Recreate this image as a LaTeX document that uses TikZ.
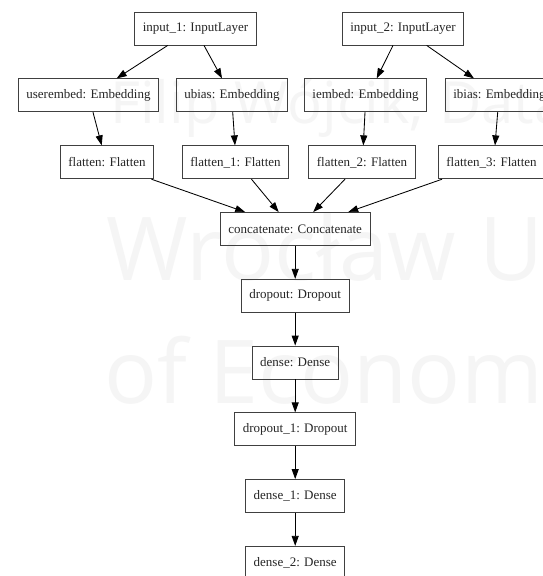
\documentclass[tikz,border=0pt]{standalone}
\usepackage{fontspec}
\setmainfont{Liberation Serif}
\newfontfamily\wmfont{Open Sans}
\usetikzlibrary{arrows.meta}
\begin{document}
\begin{tikzpicture}[x=1pt,y=-1pt,
  layer/.style={draw=black!75, line width=0.85pt, rectangle,
    minimum height=33pt, inner xsep=8pt, inner ysep=0pt,
    font=\fontsize{13}{15}\selectfont, text=black!85},
  flow/.style={draw=black, line width=0.85pt,
    -{Triangle[length=10pt,width=7pt]}},
  wmark/.style={anchor=base west, inner sep=0pt, text=black!4,
    font=\wmfont}
]
\useasboundingbox (0,0) rectangle (542,576);
\fill[white] (0,0) rectangle (542,576);

% faint background watermark
\node[wmark] (wm1) at (110,123) {\fontsize{58}{60}\selectfont Filip Wójcik, Data Science};
\node[wmark] (wm2) at (106,280) {\fontsize{88}{90}\selectfont Wrocław University};
\node[wmark] (wm3) at (104,403) {\fontsize{88}{90}\selectfont of Economics};

% rows of layers
\def\rowA{28.5}
\node[layer] (input1)    at (195.5,28.5)  {input\_1: InputLayer};
\node[layer] (input2)    at (403,28.5)    {input\_2: InputLayer};

\node[layer] (userembed) at (88.5,95.3)   {userembed: Embedding};
\node[layer] (ubias)     at (232,95.3)    {ubias: Embedding};
\node[layer] (iembed)    at (365.5,95.3)  {iembed: Embedding};
\node[layer] (ibias)     at (499.5,95.3)  {ibias: Embedding};

\node[layer] (flat0)     at (107,162.3)   {flatten: Flatten};
\node[layer] (flat1)     at (235.5,162.3) {flatten\_1: Flatten};
\node[layer] (flat2)     at (362,162.3)   {flatten\_2: Flatten};
\node[layer] (flat3)     at (491.5,162.3) {flatten\_3: Flatten};

\node[layer] (concat)    at (295.2,229)   {concatenate: Concatenate};
\node[layer] (drop0)     at (295.2,295.8) {dropout: Dropout};
\node[layer] (dense0)    at (295.2,362.5) {dense: Dense};
\node[layer] (drop1)     at (295.2,429.3) {dropout\_1: Dropout};
\node[layer] (dense1)    at (295.2,496)   {dense\_1: Dense};
\node[layer] (dense2)    at (295.2,562.8) {dense\_2: Dense};

% inputs to embeddings
\draw[flow] ([xshift=-27.8pt]input1.south) -- ([xshift=28.2pt]userembed.north);
\draw[flow] ([xshift=8.5pt]input1.south)   -- ([xshift=-10pt]ubias.north);
\draw[flow] ([xshift=-10pt]input2.south)   -- ([xshift=11.2pt]iembed.north);
\draw[flow] ([xshift=23.7pt]input2.south)  -- ([xshift=-25.5pt]ibias.north);

% embeddings to flatten layers
\draw[flow] ([xshift=4.5pt]userembed.south) -- ([xshift=-5.3pt]flat0.north);
\draw[flow] ([xshift=0.7pt]ubias.south)     -- ([xshift=-0.5pt]flat1.north);
\draw[flow] ([xshift=-0.5pt]iembed.south)   -- ([xshift=1.3pt]flat2.north);
\draw[flow] ([xshift=-1.8pt]ibias.south)    -- ([xshift=3.5pt]flat3.north);

% flatten layers into the concatenation
\draw[flow] ([xshift=44.5pt]flat0.south)  -- ([xshift=-50pt]concat.north);
\draw[flow] ([xshift=16pt]flat1.south)    -- ([xshift=-16.5pt]concat.north);
\draw[flow] ([xshift=-17pt]flat2.south)   -- ([xshift=18pt]concat.north);
\draw[flow] ([xshift=-49.5pt]flat3.south) -- ([xshift=53pt]concat.north);

% dense head
\draw[flow] (concat) -- (drop0);
\draw[flow] (drop0)  -- (dense0);
\draw[flow] (dense0) -- (drop1);
\draw[flow] (drop1)  -- (dense1);
\draw[flow] (dense1) -- (dense2);
\end{tikzpicture}
\end{document}
